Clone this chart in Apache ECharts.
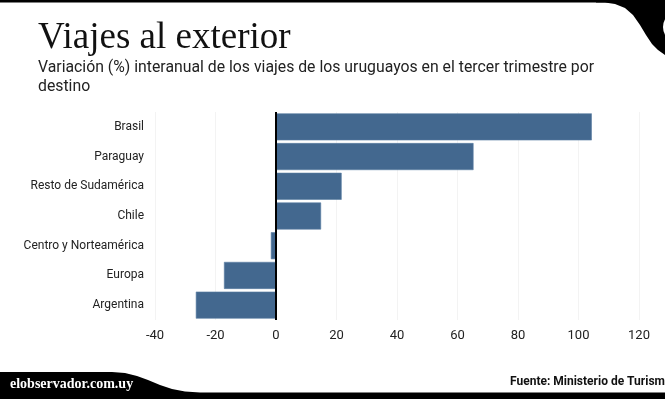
<!DOCTYPE html>
<html>
<head>
<meta charset="utf-8">
<script src="https://cdn.jsdelivr.net/npm/echarts@6/dist/echarts.min.js"></script>
<style>
  html, body { margin: 0; padding: 0; background: #fff; }
  #chart { width: 665px; height: 399px; }
</style>
</head>
<body>
<div id="chart"></div>
<script>
// destinations, bottom to top (category axis starts at bottom)
const destinos = ['Argentina', 'Europa', 'Centro y Norteamérica', 'Chile', 'Resto de Sudamérica', 'Paraguay', 'Brasil'];
const variacion = [-26.5, -17.2, -1.7, 14.9, 21.7, 65.3, 104.4];
const xTicks = { min: -40, max: 120, step: 20 };

const barColor = '#43688f';

// decorative frame outlines
const topCurve = [[596, 0], [665, 0], [665, 55], [658, 50], [652, 44], [646, 35], [640, 25], [633, 15], [625, 8], [615, 4], [605, 2.5], [596, 2.5]];
const bottomCurve = [[0, 372], [112, 372], [125, 373], [137, 376], [148, 380], [160, 385], [172, 389], [185, 391.5], [200, 392.5], [665, 392.5], [665, 399], [0, 399]];

const myChart = echarts.init(document.getElementById('chart'));
myChart.setOption({
    animation: false,
    backgroundColor: '#fff',
    grid: {
        left: 155,
        right: 26,
        top: 112,
        bottom: 79,
        containLabel: false
    },
    xAxis: {
        type: 'value',
        min: xTicks.min,
        max: xTicks.max,
        interval: xTicks.step,
        axisLine: { show: false },
        axisTick: { show: false },
        splitLine: { lineStyle: { color: '#f3f3f3', width: 1 } },
        axisLabel: {
            color: '#222',
            fontFamily: 'Roboto',
            fontSize: 13,
            margin: 9
        }
    },
    yAxis: {
        type: 'category',
        data: destinos,
        axisLine: { show: false },
        axisTick: { show: false },
        splitLine: { show: false },
        axisLabel: {
            color: '#222',
            fontFamily: 'Roboto',
            fontSize: 12,
            margin: 11
        }
    },
    series: [{
        type: 'bar',
        data: variacion,
        barWidth: 27,
        itemStyle: { color: barColor, borderColor: '#5a7ea3', borderWidth: 0.6 },
        markLine: {
            silent: true,
            symbol: 'none',
            label: { show: false },
            lineStyle: { color: '#000', width: 2, type: 'solid' },
            data: [{ xAxis: 0 }]
        }
    }],
    graphic: [
        // top frame band
        { type: 'rect', shape: { x: 0, y: 0, width: 665, height: 2.5 }, style: { fill: '#000' } },
        { type: 'polygon', shape: { points: topCurve }, style: { fill: '#000' } },
        { type: 'circle', shape: { cx: 679, cy: 27, r: 16 }, style: { fill: '#fff' } },
        // bottom frame band
        { type: 'polygon', shape: { points: bottomCurve }, style: { fill: '#000' } },
        {
            type: 'text', left: 38, top: 20,
            style: { text: 'Viajes al exterior', fill: '#111', font: '37px "Liberation Serif"' }
        },
        {
            type: 'text', left: 38, top: 59,
            style: {
                text: 'Variación (%) interanual de los viajes de los uruguayos en el tercer trimestre por\ndestino',
                fill: '#222', font: '15.8px Roboto', lineHeight: 19
            }
        },
        {
            type: 'text', left: 10, top: 377,
            style: { text: 'elobservador.com.uy', fill: '#fff', font: 'bold 14px "Liberation Serif"' }
        },
        {
            type: 'text', left: 510, top: 376,
            style: { text: 'Fuente: Ministerio de Turismo', fill: '#111', font: 'bold 12px Roboto' }
        }
    ]
});
window.addEventListener('resize', myChart.resize);
</script>
</body>
</html>
